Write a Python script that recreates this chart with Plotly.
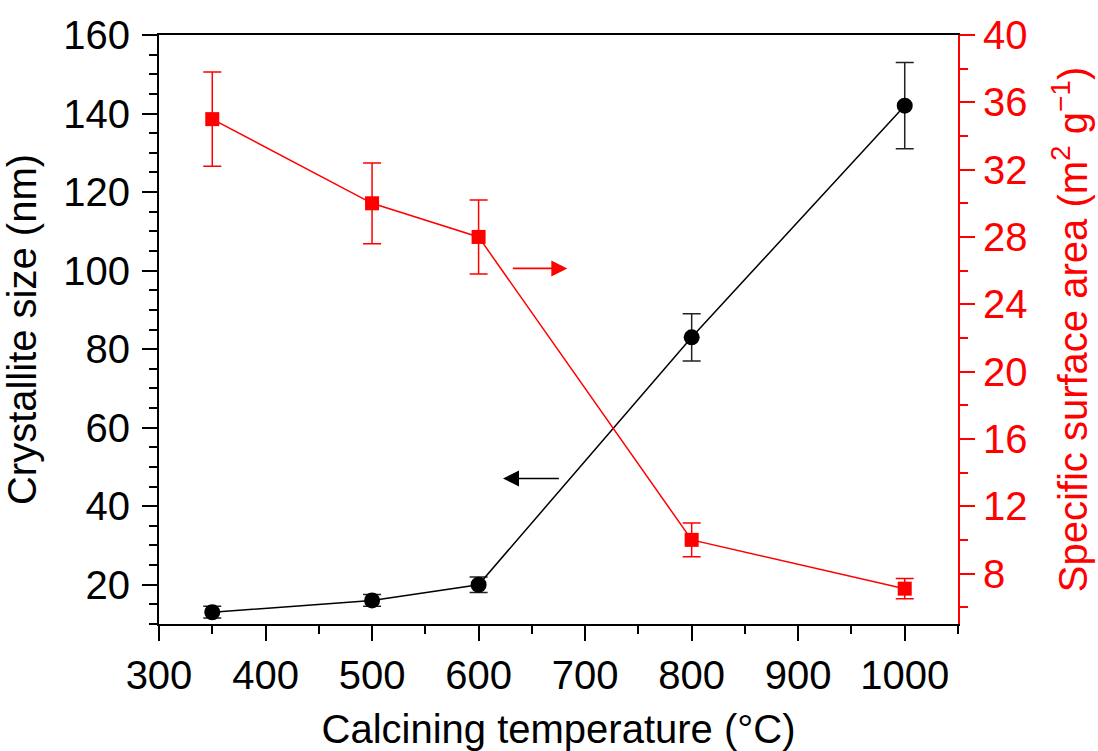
import plotly.graph_objects as go

# Calcining temperatures (°C)
temperature = [350, 500, 600, 800, 1000]

# Crystallite size (nm) with error
crystallite_size = [13, 16, 20, 83, 142]
crystallite_err = [1.5, 1.5, 2, 6, 11]

# Specific surface area (m2/g) with error
surface_area = [35.0, 30.0, 28.0, 10.0, 7.1]
surface_err = [2.8, 2.4, 2.2, 1.0, 0.6]

FONT = "Liberation Sans, Arial, sans-serif"
RED = "#ff0000"

fig = go.Figure()

fig.add_trace(go.Scatter(
    x=temperature, y=crystallite_size,
    mode="lines+markers",
    line=dict(color="black", width=1.5),
    marker=dict(symbol="circle", size=16, color="black"),
    error_y=dict(type="data", array=crystallite_err, visible=True,
                 color="#222222", thickness=1.5, width=9),
    yaxis="y", showlegend=False,
))

fig.add_trace(go.Scatter(
    x=temperature, y=surface_area,
    mode="lines+markers",
    line=dict(color=RED, width=1.5),
    marker=dict(symbol="square", size=14, color=RED),
    error_y=dict(type="data", array=surface_err, visible=True,
                 color=RED, thickness=1.5, width=9),
    yaxis="y2", showlegend=False,
))

# arrows pointing each curve to its own axis
fig.add_annotation(x=683.3, y=26.13, ax=630.7, ay=26.13,
                   xref="x", yref="y2", axref="x", ayref="y2",
                   text="", showarrow=True, arrowhead=2, arrowsize=2,
                   arrowwidth=1.6, arrowcolor=RED, standoff=0, startstandoff=0)
fig.add_annotation(x=622.9, y=47.07, ax=676.8, ay=47.07,
                   xref="x", yref="y", axref="x", ayref="y",
                   text="", showarrow=True, arrowhead=2, arrowsize=2,
                   arrowwidth=1.6, arrowcolor="black", standoff=0, startstandoff=0)

fig.update_layout(
    width=1098, height=751,
    margin=dict(l=159, r=140, t=35, b=127),
    paper_bgcolor="white", plot_bgcolor="white",
    font=dict(family=FONT, size=40, color="black"),
    xaxis=dict(
        range=[300, 1050], dtick=100, tick0=0, automargin=False,
        showgrid=False, zeroline=False,
        showline=True, linecolor="black", linewidth=2, mirror=True,
        ticks="outside", ticklen=15, tickwidth=2, tickcolor="black",
        minor=dict(dtick=50, ticks="outside", ticklen=8, tickwidth=2, tickcolor="black"),
        tickfont=dict(size=40, color="black"),
        title=dict(text="Calcining temperature (°C)", font=dict(size=40), standoff=31),
    ),
    yaxis=dict(
        range=[10, 160], dtick=20, tick0=0, automargin=False,
        showgrid=False, zeroline=False,
        showline=True, linecolor="black", linewidth=2,
        ticks="outside", ticklen=15, tickwidth=2, tickcolor="black",
        minor=dict(dtick=5, ticks="outside", ticklen=8, tickwidth=2, tickcolor="black"),
        tickfont=dict(size=40, color="black"),
        ticklabelstandoff=4,
        title=dict(text="Crystallite size (nm)", font=dict(size=40), standoff=18),
    ),
    yaxis2=dict(
        overlaying="y", side="right", anchor="x", automargin=False,
        range=[5, 40], dtick=4, tick0=0,
        showgrid=False, zeroline=False,
        showline=True, linecolor=RED, linewidth=2,
        ticks="outside", ticklen=15, tickwidth=2, tickcolor=RED,
        minor=dict(dtick=2, ticks="outside", ticklen=8, tickwidth=2, tickcolor=RED),
        tickfont=dict(size=40, color=RED),
        title=dict(text="Specific surface area (m<sup>2</sup> g<sup>−1</sup>)",
                   font=dict(size=40, color=RED), standoff=32),
    ),
)

fig.write_html("out.html")
